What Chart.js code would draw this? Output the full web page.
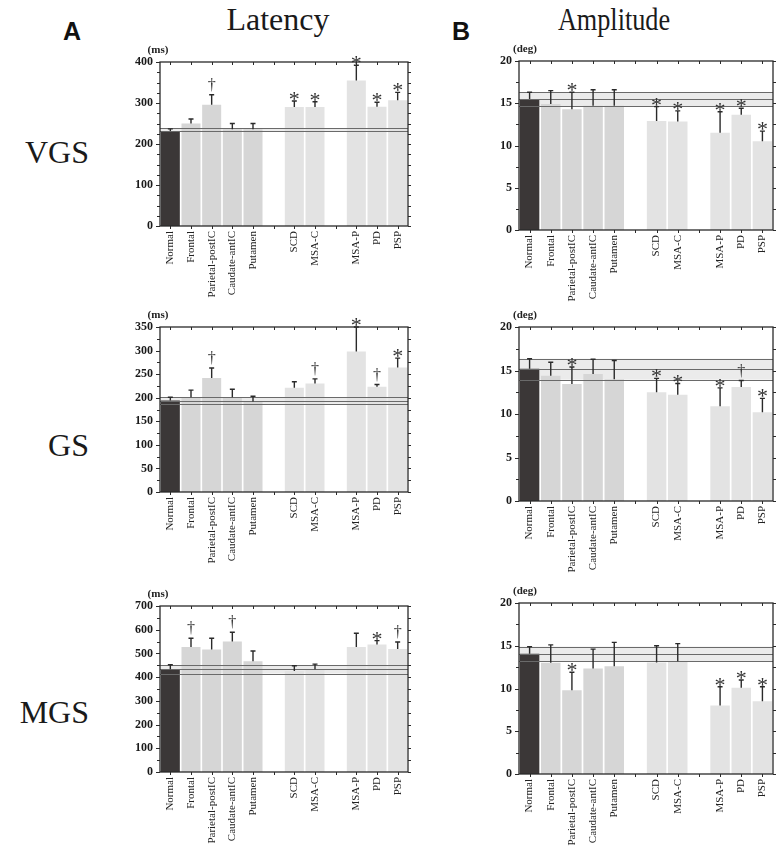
<!DOCTYPE html>
<html>
<head>
<meta charset="utf-8">
<script src="https://cdn.jsdelivr.net/npm/chart.js@4"></script>
<style>
  body { margin: 0; background: #fff; }
  #page { position: relative; width: 784px; height: 847px; overflow: hidden; }
  canvas { position: absolute; }
  .t { position: absolute; font-family: "Liberation Serif", serif; line-height: 1; color: #1a1a1a; white-space: nowrap; }
  .p { position: absolute; font-family: "Liberation Sans", Arial, sans-serif; font-weight: bold; line-height: 1; color: #111; }
</style>
</head>
<body>
<div id="page">
  <div class="p" style="left:63px;top:19px;font-size:25px;">A</div>
  <div class="p" style="left:452px;top:19px;font-size:25px;">B</div>
  <div class="t" style="left:178px;width:200px;text-align:center;top:3px;font-size:32px;">Latency</div>
  <div class="t" style="left:514px;width:200px;text-align:center;top:3px;font-size:32px;transform:scaleX(0.82);">Amplitude</div>
  <div class="t" style="left:0;width:89px;text-align:right;top:136px;font-size:32px;">VGS</div>
  <div class="t" style="left:0;width:89px;text-align:right;top:429px;font-size:32px;">GS</div>
  <div class="t" style="left:0;width:89px;text-align:right;top:696px;font-size:32px;">MGS</div>

  <canvas id="vgsLat" width="320" height="266" style="left:100px;top:40px;"></canvas>
  <canvas id="gsLat" width="320" height="267" style="left:100px;top:305px;"></canvas>
  <canvas id="mgsLat" width="320" height="263" style="left:100px;top:584px;"></canvas>
  <canvas id="vgsAmp" width="324" height="270" style="left:460px;top:40px;"></canvas>
  <canvas id="gsAmp" width="324" height="276" style="left:460px;top:305px;"></canvas>
  <canvas id="mgsAmp" width="324" height="263" style="left:460px;top:584px;"></canvas>
</div>
<script>
// categories (blank slots are the gaps between groups)
const categories = ["Normal", "Frontal", "Parietal-postIC", "Caudate-antIC", "Putamen", "", "SCD", "MSA-C", "", "MSA-P", "PD", "PSP"];

// Latency (ms)
const vgsLatency = [232, 250, 296, 236, 236, null, 290, 290, null, 355, 291, 307];
const vgsLatencySd = [5, 11, 24, 14, 14, null, 15, 13, null, 37, 11, 19];
const vgsLatencyMark = ["", "", "†", "", "", "", "*", "*", "", "*", "*", "*"];
const vgsLatencyBand = [232, 232, 238];

const gsLatency = [194, 201, 242, 201, 192, null, 221, 230, null, 298, 223, 264];
const gsLatencySd = [7, 15, 21, 17, 11, null, 13, 10, null, 52, 5, 20];
const gsLatencyMark = ["", "", "†", "", "", "", "", "†", "", "*", "†", "*"];
const gsLatencyBand = [187, 194, 201];

const mgsLatency = [433, 527, 517, 550, 467, null, 426, 433, null, 527, 538, 519];
const mgsLatencySd = [19, 37, 47, 39, 43, null, 22, 22, null, 58, 16, 29];
const mgsLatencyMark = ["", "†", "", "†", "", "", "", "", "", "", "*", "†"];
const mgsLatencyBand = [415, 433, 450];

// Amplitude (deg)
const vgsAmplitude = [15.5, 14.9, 14.3, 14.7, 14.7, null, 12.9, 12.85, null, 11.5, 13.65, 10.5];
const vgsAmplitudeSd = [0.8, 1.6, 2.0, 1.9, 1.9, null, 1.7, 1.25, null, 2.5, 0.75, 1.2];
const vgsAmplitudeMark = ["", "", "*", "", "", "", "*", "*", "", "*", "*", "*"];
const vgsAmplitudeBand = [14.65, 15.5, 16.3];

const gsAmplitude = [15.2, 14.4, 13.45, 14.6, 14.0, null, 12.5, 12.2, null, 10.9, 13.1, 10.2];
const gsAmplitudeSd = [1.15, 1.55, 1.95, 1.7, 2.15, null, 1.6, 1.3, null, 2.1, 0.75, 1.6];
const gsAmplitudeMark = ["", "", "*", "", "", "", "*", "*", "", "*", "†", "*"];
const gsAmplitudeBand = [13.95, 15.15, 16.35];

const mgsAmplitude = [14.05, 13.0, 9.8, 12.35, 12.6, null, 13.05, 13.2, null, 8.0, 10.1, 8.5];
const mgsAmplitudeSd = [0.85, 2.1, 2.1, 2.25, 2.8, null, 1.95, 2.05, null, 2.2, 0.9, 1.7];
const mgsAmplitudeMark = ["", "", "*", "", "", "", "", "", "", "*", "*", "*"];
const mgsAmplitudeBand = [13.2, 14.0, 14.9];

const barColors = ["#3b3737", "#d6d6d6", "#d6d6d6", "#d6d6d6", "#d6d6d6", "#fff",
  "#e3e3e3", "#e3e3e3", "#fff", "#e3e3e3", "#e3e3e3", "#e3e3e3"];
const ink = "#2a2a2a";
const serif = "'Liberation Serif', 'Times New Roman', serif";

const panelDeco = {
  id: "panelDeco",
  beforeDatasetsDraw(chart, args, o) {
    const { ctx, chartArea: a } = chart;
    const y = chart.scales.y;
    const y1 = y.getPixelForValue(o.band[2]);
    const y0 = y.getPixelForValue(o.band[0]);
    ctx.save();
    ctx.fillStyle = "#ebebeb";
    ctx.fillRect(a.left, y1, a.right - a.left, y0 - y1);
    ctx.restore();
  },
  afterDatasetsDraw(chart, args, o) {
    const { ctx, chartArea: a } = chart;
    const x = chart.scales.x, y = chart.scales.y;
    const meta = chart.getDatasetMeta(0);
    ctx.save();

    // normal range lines
    ctx.strokeStyle = "#6a6a6a";
    ctx.lineWidth = 1;
    o.band.forEach(v => {
      const py = Math.round(y.getPixelForValue(v)) + 0.5;
      ctx.beginPath();
      ctx.moveTo(a.left, py);
      ctx.lineTo(a.right, py);
      ctx.stroke();
    });

    // error bars + markers
    ctx.strokeStyle = ink;
    ctx.fillStyle = "#333";
    ctx.lineWidth = 1.4;
    o.values.forEach((v, i) => {
      if (v == null) return;
      const el = meta.data[i];
      const top = y.getPixelForValue(v + o.sd[i]);
      ctx.beginPath();
      ctx.moveTo(el.x, el.y);
      ctx.lineTo(el.x, top);
      ctx.moveTo(el.x - 2.5, top);
      ctx.lineTo(el.x + 2.5, top);
      ctx.stroke();
      const m = o.marks[i];
      if (m) {
        ctx.textAlign = "center";
        ctx.textBaseline = "alphabetic";
        if (m === "*") {
          ctx.font = "22px " + serif;
          ctx.fillText(m, el.x, top + 5);
        } else {
          ctx.font = "16px " + serif;
          ctx.fillText(m, el.x, top - 5);
        }
      }
    });

    // frame
    ctx.lineWidth = 1.3;
    ctx.strokeStyle = ink;
    ctx.strokeRect(a.left, a.top, a.right - a.left, a.bottom - a.top);

    // y ticks (left outward, right outward)
    ctx.lineWidth = 1;
    for (let v = y.min; v <= y.max + 1e-9; v += o.minor) {
      const py = Math.round(y.getPixelForValue(v)) + 0.5;
      const major = Math.abs(v / o.major - Math.round(v / o.major)) < 1e-6;
      ctx.beginPath();
      ctx.moveTo(a.left - (major ? 4 : 3), py);
      ctx.lineTo(a.left, py);
      ctx.moveTo(a.right, py);
      ctx.lineTo(a.right + 3, py);
      ctx.stroke();
    }
    // x ticks (top inward, bottom outward)
    categories.forEach((c, i) => {
      const px = Math.round(x.getPixelForValue(i)) + 0.5;
      ctx.beginPath();
      ctx.moveTo(px, a.top);
      ctx.lineTo(px, a.top + 3);
      ctx.moveTo(px, a.bottom);
      ctx.lineTo(px, a.bottom + 3);
      ctx.stroke();
    });

    // unit label
    ctx.font = "bold 11px " + serif;
    ctx.textAlign = "center";
    ctx.textBaseline = "middle";
    ctx.fillStyle = "#222";
    ctx.fillText(o.unit, a.left + o.unitDx, a.top - 12);
    ctx.restore();
  }
};

function makePanel(id, values, sd, marks, band, cfg) {
  new Chart(document.getElementById(id), {
    type: "bar",
    data: {
      labels: categories,
      datasets: [{
        data: values,
        backgroundColor: barColors,
        borderWidth: 0,
        barPercentage: 0.92,
        categoryPercentage: 1
      }]
    },
    options: {
      responsive: false,
      animation: false,
      devicePixelRatio: 1,
      layout: { padding: { top: cfg.padTop, right: cfg.padRight, left: 0, bottom: 0 } },
      plugins: {
        legend: { display: false },
        tooltip: { enabled: false },
        panelDeco: {
          values, sd, marks, band,
          major: cfg.major, minor: cfg.minor,
          unit: cfg.unit, unitDx: cfg.unitDx
        }
      },
      scales: {
        x: {
          grid: { display: false, drawTicks: false },
          border: { display: false },
          afterFit: s => { s.height = cfg.xHeight; },
          ticks: {
            autoSkip: false,
            minRotation: 90,
            maxRotation: 90,
            padding: 5,
            color: "#222",
            font: { family: serif, size: 11 }
          }
        },
        y: {
          min: 0,
          max: cfg.max,
          grid: { display: false, drawTicks: false },
          border: { display: false },
          afterFit: s => { s.width = cfg.yWidth; },
          ticks: {
            stepSize: cfg.major,
            padding: 7,
            color: "#1a1a1a",
            font: { family: serif, size: 12, weight: "bold" }
          }
        }
      }
    },
    plugins: [panelDeco]
  });
}

const leftCfg = { yWidth: 60, padRight: 12, unit: "(ms)", unitDx: -2 };
const rightCfg = { yWidth: 59, padRight: 11, unit: "(deg)", unitDx: 6, max: 20, major: 5, minor: 2.5 };

makePanel("vgsLat", vgsLatency, vgsLatencySd, vgsLatencyMark, vgsLatencyBand,
  Object.assign({}, leftCfg, { padTop: 22, xHeight: 80, max: 400, major: 100, minor: 25 }));
makePanel("gsLat", gsLatency, gsLatencySd, gsLatencyMark, gsLatencyBand,
  Object.assign({}, leftCfg, { padTop: 22, xHeight: 80, max: 350, major: 50, minor: 25 }));
makePanel("mgsLat", mgsLatency, mgsLatencySd, mgsLatencyMark, mgsLatencyBand,
  Object.assign({}, leftCfg, { padTop: 22, xHeight: 75, max: 700, major: 100, minor: 50 }));

makePanel("vgsAmp", vgsAmplitude, vgsAmplitudeSd, vgsAmplitudeMark, vgsAmplitudeBand,
  Object.assign({}, rightCfg, { padTop: 21, xHeight: 80 }));
makePanel("gsAmp", gsAmplitude, gsAmplitudeSd, gsAmplitudeMark, gsAmplitudeBand,
  Object.assign({}, rightCfg, { padTop: 22, xHeight: 80 }));
makePanel("mgsAmp", mgsAmplitude, mgsAmplitudeSd, mgsAmplitudeMark, mgsAmplitudeBand,
  Object.assign({}, rightCfg, { padTop: 19, xHeight: 73 }));
</script>
</body>
</html>
